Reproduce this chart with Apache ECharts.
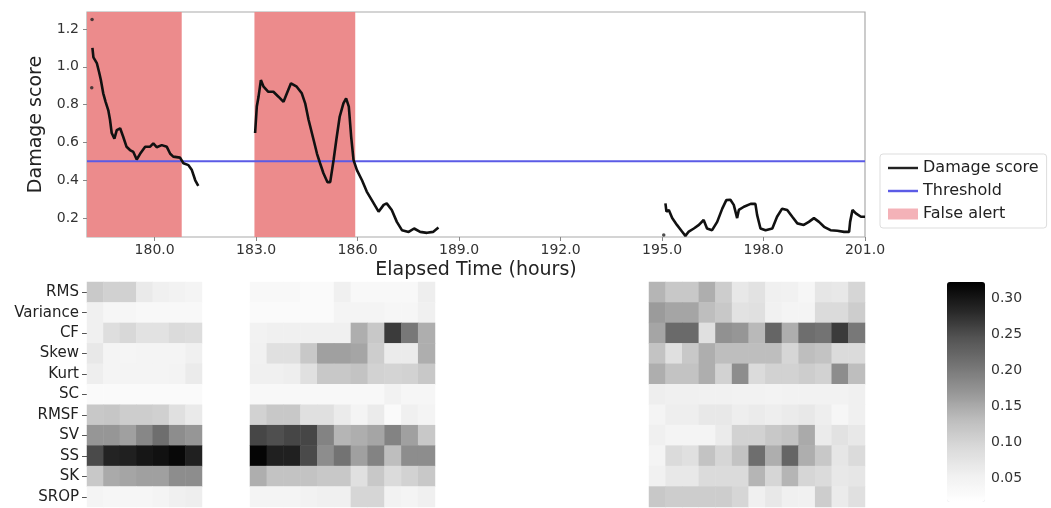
<!DOCTYPE html>
<html>
<head>
<meta charset="utf-8">
<script src="https://cdn.jsdelivr.net/npm/echarts@6/dist/echarts.min.js"></script>
<style>
  html, body { margin: 0; padding: 0; background: #fff; }
  #chart { width: 1051px; height: 508px; }
</style>
</head>
<body>
<div id="chart"></div>
<script>
// damage score, three recorded stretches (hours, score)
const seg1T = [178.16, 178.19, 178.24, 178.29, 178.36, 178.41, 178.48, 178.55, 178.63, 178.68, 178.73, 178.81, 178.88, 178.98, 179.07, 179.17, 179.27, 179.37, 179.47, 179.57, 179.72, 179.86, 179.96, 180.06, 180.21, 180.36, 180.46, 180.55, 180.75, 180.85, 181.0, 181.1, 181.2, 181.29];
const seg1V = [1.10, 1.05, 1.04, 1.02, 0.97, 0.93, 0.86, 0.815, 0.77, 0.72, 0.65, 0.62, 0.665, 0.675, 0.63, 0.577, 0.56, 0.55, 0.51, 0.54, 0.577, 0.577, 0.595, 0.575, 0.586, 0.577, 0.54, 0.525, 0.52, 0.49, 0.48, 0.454, 0.40, 0.37];
const seg2T = [182.97, 183.02, 183.07, 183.14, 183.22, 183.36, 183.51, 183.66, 183.81, 183.91, 184.03, 184.2, 184.35, 184.45, 184.55, 184.7, 184.8, 184.89, 184.99, 185.11, 185.19, 185.29, 185.37, 185.47, 185.58, 185.66, 185.74, 185.81, 185.88, 185.98, 186.13, 186.27, 186.42, 186.62, 186.77, 186.86, 187.01, 187.16, 187.31, 187.51, 187.67, 187.85, 188.05, 188.23, 188.39];
const seg2V = [0.65, 0.79, 0.84, 0.93, 0.895, 0.868, 0.868, 0.842, 0.815, 0.86, 0.913, 0.895, 0.86, 0.807, 0.72, 0.613, 0.54, 0.49, 0.437, 0.39, 0.39, 0.507, 0.613, 0.736, 0.807, 0.833, 0.79, 0.63, 0.507, 0.454, 0.40, 0.34, 0.295, 0.234, 0.27, 0.278, 0.243, 0.18, 0.136, 0.127, 0.145, 0.127, 0.122, 0.127, 0.15];
const seg3T = [195.1, 195.13, 195.2, 195.3, 195.44, 195.59, 195.69, 195.79, 195.94, 196.09, 196.23, 196.33, 196.48, 196.63, 196.78, 196.9, 197.02, 197.12, 197.22, 197.27, 197.42, 197.62, 197.76, 197.81, 197.91, 198.06, 198.26, 198.4, 198.55, 198.7, 198.85, 199.0, 199.19, 199.34, 199.49, 199.64, 199.79, 199.98, 200.18, 200.38, 200.53, 200.56, 200.63, 200.73, 200.88, 201.0];
const seg3V = [0.278, 0.234, 0.243, 0.2, 0.164, 0.129, 0.106, 0.129, 0.145, 0.164, 0.19, 0.145, 0.136, 0.18, 0.25, 0.295, 0.297, 0.27, 0.2, 0.243, 0.26, 0.275, 0.275, 0.217, 0.145, 0.136, 0.145, 0.207, 0.25, 0.243, 0.207, 0.172, 0.164, 0.18, 0.2, 0.18, 0.154, 0.136, 0.133, 0.127, 0.127, 0.18, 0.243, 0.225, 0.207, 0.207];
// stray single points
const dotsT = [178.15, 178.14, 195.05];
const dotsV = [1.25, 0.89, 0.111];

const thresholdT = [178, 201];
const thresholdV = [0.5, 0.5];

const alertStart = [178.0, 182.95];
const alertEnd = [180.8, 185.93];

const xTicks = [180, 183, 186, 189, 192, 195, 198, 201];
const yTicks = [0.2, 0.4, 0.6, 0.8, 1.0, 1.2];

// feature contribution heatmap
const features = ['RMS', 'Variance', 'CF', 'Skew', 'Kurt', 'SC', 'RMSF', 'SV', 'SS', 'SK', 'SROP'];
const colsA = ['178.0', '178.5', '179.0', '179.5', '180.0', '180.5', '181.0'];
const colsB = ['182.9', '183.4', '183.9', '184.4', '184.9', '185.4', '185.9', '186.4', '186.9', '187.4', '187.9'];
const colsC = ['194.8', '195.3', '195.8', '196.3', '196.8', '197.3', '197.8', '198.3', '198.8', '199.3', '199.8', '200.3', '200.8'];

const heatA = [
  [0.115, 0.105, 0.105, 0.065, 0.055, 0.05, 0.045],
  [0.055, 0.04, 0.04, 0.035, 0.035, 0.035, 0.035],
  [0.055, 0.085, 0.095, 0.078, 0.078, 0.09, 0.087],
  [0.068, 0.045, 0.043, 0.045, 0.045, 0.045, 0.055],
  [0.058, 0.045, 0.045, 0.045, 0.045, 0.048, 0.063],
  [0.03, 0.03, 0.03, 0.03, 0.03, 0.03, 0.03],
  [0.117, 0.12, 0.11, 0.11, 0.106, 0.082, 0.065],
  [0.17, 0.17, 0.16, 0.186, 0.214, 0.18, 0.17],
  [0.253, 0.287, 0.29, 0.3, 0.305, 0.315, 0.29],
  [0.117, 0.15, 0.155, 0.16, 0.16, 0.18, 0.18],
  [0.045, 0.04, 0.04, 0.04, 0.045, 0.055, 0.058]
];
const heatB = [
  [0.035, 0.035, 0.035, 0.03, 0.03, 0.055, 0.035, 0.035, 0.035, 0.035, 0.058],
  [0.03, 0.03, 0.03, 0.03, 0.03, 0.045, 0.045, 0.045, 0.04, 0.04, 0.055],
  [0.05, 0.055, 0.055, 0.055, 0.055, 0.055, 0.146, 0.117, 0.266, 0.203, 0.146],
  [0.052, 0.082, 0.082, 0.117, 0.16, 0.16, 0.155, 0.11, 0.063, 0.063, 0.146],
  [0.055, 0.055, 0.058, 0.082, 0.117, 0.117, 0.123, 0.103, 0.1, 0.103, 0.117],
  [0.035, 0.035, 0.035, 0.035, 0.035, 0.035, 0.035, 0.035, 0.05, 0.04, 0.04],
  [0.103, 0.117, 0.117, 0.082, 0.082, 0.063, 0.045, 0.063, 0.03, 0.055, 0.045],
  [0.257, 0.249, 0.257, 0.257, 0.191, 0.14, 0.146, 0.155, 0.191, 0.16, 0.117],
  [0.318, 0.29, 0.29, 0.253, 0.18, 0.208, 0.16, 0.191, 0.131, 0.18, 0.18],
  [0.146, 0.123, 0.123, 0.123, 0.117, 0.117, 0.082, 0.117, 0.09, 0.103, 0.117],
  [0.045, 0.045, 0.045, 0.05, 0.055, 0.055, 0.097, 0.097, 0.05, 0.045, 0.055]
];
const heatC = [
  [0.14, 0.117, 0.117, 0.146, 0.11, 0.068, 0.078, 0.055, 0.052, 0.04, 0.072, 0.068, 0.097],
  [0.165, 0.155, 0.155, 0.131, 0.117, 0.078, 0.082, 0.052, 0.045, 0.045, 0.09, 0.09, 0.11],
  [0.155, 0.219, 0.219, 0.082, 0.175, 0.17, 0.136, 0.225, 0.146, 0.214, 0.208, 0.266, 0.203],
  [0.123, 0.082, 0.117, 0.146, 0.131, 0.131, 0.131, 0.131, 0.097, 0.131, 0.123, 0.09, 0.09],
  [0.146, 0.123, 0.123, 0.146, 0.103, 0.18, 0.09, 0.103, 0.103, 0.11, 0.103, 0.18, 0.131],
  [0.058, 0.055, 0.055, 0.052, 0.052, 0.05, 0.05, 0.048, 0.05, 0.05, 0.05, 0.05, 0.055],
  [0.045, 0.058, 0.058, 0.068, 0.068, 0.058, 0.063, 0.058, 0.063, 0.068, 0.058, 0.04, 0.055],
  [0.055, 0.045, 0.045, 0.045, 0.063, 0.103, 0.103, 0.117, 0.123, 0.15, 0.063, 0.078, 0.068],
  [0.045, 0.09, 0.082, 0.123, 0.097, 0.123, 0.214, 0.146, 0.225, 0.146, 0.117, 0.072, 0.09],
  [0.052, 0.068, 0.068, 0.09, 0.09, 0.09, 0.14, 0.097, 0.14, 0.097, 0.09, 0.068, 0.072],
  [0.117, 0.11, 0.11, 0.11, 0.11, 0.097, 0.055, 0.068, 0.055, 0.052, 0.11, 0.063, 0.082]
];
const colorTicks = [0.05, 0.10, 0.15, 0.20, 0.25, 0.30];
const colorMin = 0.017;
const colorMax = 0.323;

const FONT = 'DejaVu Sans';
const greys = ['#ffffff', '#f0f0f0', '#d9d9d9', '#bdbdbd', '#969696', '#737373', '#525252', '#252525', '#000000'];
// thin bar used as a legend line icon (keeps aspect, so it stays thin)
const LINE_ICON = 'path://M0,0 L32,0 L32,2.6 L0,2.6 Z';

const zip = (ts, vs) => ts.map((t, i) => [t, vs[i]]);
const cells = rows => {
  const out = [];
  rows.forEach((r, y) => r.forEach((v, x) => out.push([x, y, v])));
  return out;
};

const chart = echarts.init(document.getElementById('chart'));

const lineSeries = (data) => ({
  name: 'Damage score',
  type: 'line',
  xAxisIndex: 0,
  yAxisIndex: 0,
  data: data,
  symbol: 'none',
  z: 4,
  lineStyle: { color: '#111', width: 2.6 },
  itemStyle: { color: '#111' }
});

const heatAxisX = (idx, cols) => ({
  type: 'category', gridIndex: idx, data: cols, show: false
});
const heatAxisY = (idx, showLabels) => ({
  type: 'category', gridIndex: idx, data: features, inverse: true,
  axisLine: { show: false },
  axisTick: { show: showLabels, alignWithLabel: true, length: 5, lineStyle: { color: '#555' } },
  axisLabel: { show: showLabels, fontFamily: FONT, fontSize: 15, color: '#222', margin: 8 },
  splitLine: { show: false }
});
const heatSeries = (idx, rows) => ({
  type: 'heatmap',
  xAxisIndex: idx,
  yAxisIndex: idx,
  data: cells(rows),
  emphasis: { disabled: true },
  itemStyle: { borderWidth: 0 }
});

const option = {
  animation: false,
  backgroundColor: '#fff',
  grid: [
    { left: 87, top: 12, width: 778, height: 225, show: true, borderColor: '#aaa', borderWidth: 1.2, backgroundColor: 'transparent' },
    { left: 87, top: 282, width: 115, height: 225 },
    { left: 250, top: 282, width: 185, height: 225 },
    { left: 649, top: 282, width: 216, height: 225 },
    { left: 947, top: 282, width: 38, height: 220 }
  ],
  legend: {
    orient: 'vertical',
    left: 880,
    top: 154,
    padding: [6, 8, 6, 8],
    itemWidth: 30,
    itemHeight: 11,
    itemGap: 7,
    borderColor: '#ddd',
    borderWidth: 1,
    borderRadius: 3,
    textStyle: { fontFamily: FONT, fontSize: 16, color: '#222' },
    data: [
      { name: 'Damage score', icon: LINE_ICON, itemStyle: { color: '#222' } },
      { name: 'Threshold', icon: LINE_ICON, itemStyle: { color: '#5b5be6' } },
      { name: 'False alert', icon: 'rect', itemStyle: { color: '#f4b2b8' } }
    ]
  },
  xAxis: [
    {
      type: 'value', gridIndex: 0, min: 178, max: 201,
      name: 'Elapsed Time (hours)', nameLocation: 'middle', nameGap: 24,
      nameTextStyle: { fontFamily: FONT, fontSize: 19, color: '#222' },
      axisLine: { show: false },
      axisTick: { show: true, length: 4, lineStyle: { color: '#888' }, customValues: xTicks },
      axisLabel: { fontFamily: FONT, fontSize: 14, color: '#333', margin: 6, customValues: xTicks, formatter: v => v.toFixed(1) },
      splitLine: { show: false }
    },
    heatAxisX(1, colsA),
    heatAxisX(2, colsB),
    heatAxisX(3, colsC),
    { type: 'value', gridIndex: 4, show: false, min: 0, max: 1 }
  ],
  yAxis: [
    {
      type: 'value', gridIndex: 0, min: 0.1, max: 1.29,
      name: 'Damage score', nameLocation: 'middle', nameGap: 37,
      nameTextStyle: { fontFamily: FONT, fontSize: 19, color: '#222' },
      axisLine: { show: false },
      axisTick: { show: true, length: 4, lineStyle: { color: '#888' }, customValues: yTicks },
      axisLabel: { fontFamily: FONT, fontSize: 14, color: '#333', margin: 8, customValues: yTicks, formatter: v => v.toFixed(1) },
      splitLine: { show: false }
    },
    heatAxisY(1, true),
    heatAxisY(2, false),
    heatAxisY(3, false),
    {
      type: 'value', gridIndex: 4, position: 'right', min: colorMin, max: colorMax,
      axisLine: { show: false },
      axisTick: { show: true, length: 4, lineStyle: { color: '#666' }, customValues: colorTicks },
      axisLabel: { fontFamily: FONT, fontSize: 14, color: '#333', margin: 6, customValues: colorTicks, formatter: v => v.toFixed(2) },
      splitLine: { show: false }
    }
  ],
  visualMap: {
    type: 'continuous',
    seriesIndex: [6, 7, 8],
    min: colorMin,
    max: colorMax,
    calculable: false,
    left: 947,
    top: 282,
    padding: 0,
    itemWidth: 38,
    itemHeight: 220,
    text: null,
    inRange: { color: greys }
  },
  series: [
    {
      name: 'False alert',
      type: 'line',
      xAxisIndex: 0,
      yAxisIndex: 0,
      data: [],
      z: 1,
      itemStyle: { color: '#f4b2b8' },
      lineStyle: { color: '#f4b2b8' },
      markArea: {
        silent: true,
        itemStyle: { color: '#ec8b8c' },
        data: alertStart.map((s, i) => [{ xAxis: s }, { xAxis: alertEnd[i] }])
      }
    },
    lineSeries(zip(seg1T, seg1V)),
    lineSeries(zip(seg2T, seg2V)),
    lineSeries(zip(seg3T, seg3V)),
    {
      name: 'Damage score',
      type: 'scatter',
      xAxisIndex: 0,
      yAxisIndex: 0,
      data: zip(dotsT, dotsV),
      symbolSize: 3.5,
      z: 4,
      itemStyle: { color: '#222' }
    },
    {
      name: 'Threshold',
      type: 'line',
      xAxisIndex: 0,
      yAxisIndex: 0,
      data: zip(thresholdT, thresholdV),
      symbol: 'none',
      z: 3,
      lineStyle: { color: '#5b5be6', width: 2 },
      itemStyle: { color: '#5b5be6' }
    },
    heatSeries(1, heatA),
    heatSeries(2, heatB),
    heatSeries(3, heatC)
  ]
};

chart.setOption(option);
</script>
</body>
</html>
